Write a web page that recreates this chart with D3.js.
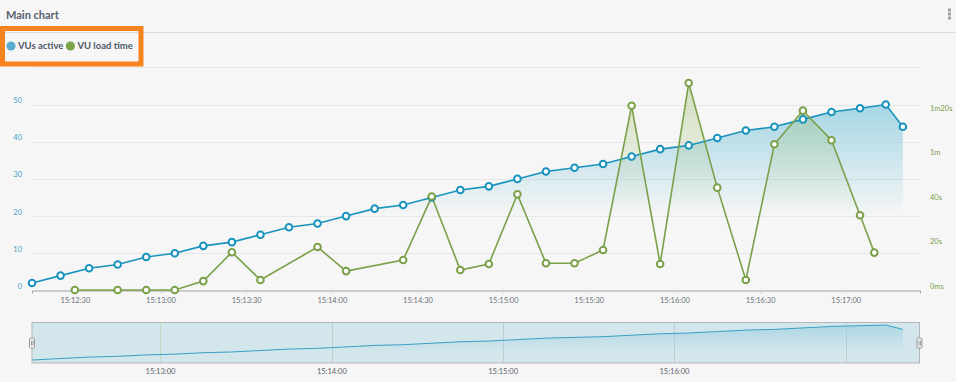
<!DOCTYPE html>
<html>
<head>
<meta charset="utf-8">
<script src="https://cdn.jsdelivr.net/npm/d3@7"></script>
<style>
body { margin: 0; background: #f6f6f6; }
svg { display: block; font-family: Lato, "Open Sans", sans-serif; }
</style>
</head>
<body>
<script>
// VUs active, one point about every 10s
var vuTimes = ["15:12:15","15:12:25","15:12:35","15:12:45","15:12:55","15:13:05","15:13:15","15:13:25",
	"15:13:35","15:13:45","15:13:55","15:14:05","15:14:15","15:14:25","15:14:35","15:14:45",
	"15:14:55","15:15:05","15:15:15","15:15:25","15:15:35","15:15:45","15:15:55","15:16:05",
	"15:16:15","15:16:25","15:16:35","15:16:45","15:16:55","15:17:05","15:17:14","15:17:20"];
var vuValues = [2,4,6,7,9,10,12,13,15,17,18,20,22,23,25,27,28,30,32,33,34,36,38,39,41,43,44,46,48,49,50,44];

// VU load time, seconds
var loadTimes = ["15:12:30","15:12:45","15:12:55","15:13:05","15:13:15","15:13:25","15:13:35","15:13:55",
	"15:14:05","15:14:25","15:14:35","15:14:45","15:14:55","15:15:05","15:15:15","15:15:25",
	"15:15:35","15:15:45","15:15:55","15:16:05","15:16:15","15:16:25","15:16:35","15:16:45",
	"15:16:55","15:17:05","15:17:10"];
var loadValues = [0,0,0,0,4,17,4.5,19.3,8.5,13.5,42,9,11.7,43,12,12,18,82.8,11.7,93,46,4.5,65.5,80.6,67.3,33.6,16.8];

var leftTicks = [0,10,20,30,40,50,60];
var leftLabels = ["0","10","20","30","40","50"];
var rightTicks = [0,20,40,60,80];
var rightLabels = ["0ms","20s","40s","1m","1m20s"];
var seriesNames = ["VUs active","VU load time"];

var parseT = d3.timeParse("%H:%M:%S");
var blue = "#1993bd", green = "#7aa049";

var svg = d3.select("body").append("svg")
	.attr("width", 956)
	.attr("height", 382);

var defs = svg.append("defs");
function grad(id, color, y1, y2, op) {
	var g = defs.append("linearGradient").attr("id", id)
		.attr("gradientUnits", "userSpaceOnUse")
		.attr("x1", 0).attr("x2", 0).attr("y1", y1).attr("y2", y2);
	g.append("stop").attr("offset", 0).attr("stop-color", color).attr("stop-opacity", op);
	g.append("stop").attr("offset", 1).attr("stop-color", color).attr("stop-opacity", 0);
}
grad("gBlue", "#6fc0d8", 104, 216, 0.6);
grad("gGreen", "#98b862", 83, 212, 0.38);
grad("gNav", "#8ccbe0", 324, 352, 0.55);

svg.append("rect").attr("width", 956).attr("height", 382).attr("fill", "#f6f6f6");

// header
svg.append("text").attr("x", 6).attr("y", 19)
	.attr("font-size", 11).attr("font-weight", "bold").attr("fill", "#56606b")
	.text("Main chart");
svg.append("line").attr("x1", 0).attr("x2", 956).attr("y1", 32.5).attr("y2", 32.5)
	.attr("stroke", "#dcdcdc");
[10, 14, 18].forEach(function(y) {
	svg.append("rect").attr("x", 948).attr("y", y - 1.5).attr("width", 3).attr("height", 3).attr("fill", "#a0a0a0");
});

// legend
var leg = svg.append("g");
var lx = 6;
seriesNames.forEach(function(n, i) {
	leg.append("circle").attr("cx", lx + 5).attr("cy", 46).attr("r", 4.6)
		.attr("fill", i == 0 ? "#5badd0" : "#7ba44c");
	var t = leg.append("text").attr("x", lx + 12).attr("y", 49.3)
		.attr("font-size", 9.5).attr("font-weight", "bold").attr("fill", "#4e5966")
		.text(n);
	lx = lx + 12 + t.node().getComputedTextLength() + 2;
});
svg.append("rect").attr("x", 2.5).attr("y", 28.5).attr("width", 138.5).attr("height", 35.5)
	.attr("fill", "none").attr("stroke", "#f7831e").attr("stroke-width", 5);

// scales
var x = d3.scaleTime()
	.domain([parseT("15:12:15"), parseT("15:17:26")])
	.range([32, 920]);
var yL = d3.scaleLinear().domain([0, 50]).range([290.5, 104.5]);
var yR = d3.scaleLinear().domain([0, 80]).range([290, 112]);

var vus = vuTimes.map(function(t, i) { return {t: parseT(t), v: vuValues[i]}; });
var loads = loadTimes.map(function(t, i) { return {t: parseT(t), v: loadValues[i]}; });

// grid
svg.append("g").selectAll("line")
	.data(leftTicks.slice(1))
	.enter().append("line")
	.attr("x1", 32).attr("x2", 920)
	.attr("y1", function(d) { return Math.round(yL(d)) + 0.5; })
	.attr("y2", function(d) { return Math.round(yL(d)) + 0.5; })
	.attr("stroke", "#e6e8e8");

svg.append("g").selectAll("text")
	.data(leftLabels)
	.enter().append("text")
	.attr("x", 22).attr("text-anchor", "end")
	.attr("y", function(d) { return yL(+d) - 1.5; })
	.attr("font-size", 7.5).attr("fill", "#3d9ec4")
	.text(function(d) { return d; });

svg.append("g").selectAll("text")
	.data(rightTicks)
	.enter().append("text")
	.attr("x", 930)
	.attr("y", function(d) { return yR(d) - 1.5; })
	.attr("font-size", 7.5).attr("fill", "#7aa049")
	.text(function(d, i) { return rightLabels[i]; });

// x axis
var xAxis = d3.axisBottom(x)
	.ticks(d3.timeSecond.every(30))
	.tickFormat(d3.timeFormat("%H:%M:%S"))
	.tickSize(3).tickPadding(4);
var ax = svg.append("g").attr("transform", "translate(0,290.5)").call(xAxis);
ax.select(".domain").attr("stroke", "#9ba0a4");
ax.selectAll(".tick line").attr("stroke", "#cfd3d6");
ax.selectAll("text").attr("font-size", 7.5).attr("fill", "#6b7177").attr("font-family", "Lato");

// blue series
svg.append("path").datum(vus)
	.attr("d", d3.area().x(function(d) { return x(d.t); }).y0(290).y1(function(d) { return yL(d.v); }))
	.attr("fill", "url(#gBlue)");
// green series
svg.append("path").datum(loads)
	.attr("d", d3.area().x(function(d) { return x(d.t); }).y0(290).y1(function(d) { return yR(d.v); }))
	.attr("fill", "url(#gGreen)");

svg.append("path").datum(vus)
	.attr("d", d3.line().x(function(d) { return x(d.t); }).y(function(d) { return yL(d.v); }))
	.attr("fill", "none").attr("stroke", blue).attr("stroke-width", 1.6);
svg.append("path").datum(loads)
	.attr("d", d3.line().x(function(d) { return x(d.t); }).y(function(d) { return yR(d.v); }))
	.attr("fill", "none").attr("stroke", green).attr("stroke-width", 1.6);

svg.append("g").selectAll("circle")
	.data(vus).enter().append("circle")
	.attr("cx", function(d) { return x(d.t); })
	.attr("cy", function(d) { return yL(d.v); })
	.attr("r", 3.3).attr("fill", "#fff").attr("stroke", blue).attr("stroke-width", 2);
svg.append("g").selectAll("circle")
	.data(loads).enter().append("circle")
	.attr("cx", function(d) { return x(d.t); })
	.attr("cy", function(d) { return yR(d.v); })
	.attr("r", 3.3).attr("fill", "#fff").attr("stroke", green).attr("stroke-width", 2);

// navigator
var yN = d3.scaleLinear().domain(d3.extent(vuValues)).range([360, 325]);
svg.append("rect").attr("x", 32).attr("y", 322.5).attr("width", 887.5).attr("height", 40.5)
	.attr("fill", "#d3e6ec");
svg.append("g").selectAll("line")
	.data(x.ticks(d3.timeMinute.every(1)))
	.enter().append("line")
	.attr("x1", function(d) { return Math.round(x(d)) + 0.5; })
	.attr("x2", function(d) { return Math.round(x(d)) + 0.5; })
	.attr("y1", 322.5).attr("y2", 363)
	.attr("stroke", function(d, i) { return i == 0 ? "#c2dcc8" : "#bfcdd2"; });
svg.append("path").datum(vus)
	.attr("d", d3.area().x(function(d) { return x(d.t); }).y0(363).y1(function(d) { return yN(d.v); }))
	.attr("fill", "url(#gNav)");
svg.append("path").datum(vus)
	.attr("d", d3.line().x(function(d) { return x(d.t); }).y(function(d) { return yN(d.v); }))
	.attr("fill", "none").attr("stroke", "#3a9fc4").attr("stroke-width", 1);
svg.append("rect").attr("x", 32).attr("y", 322.5).attr("width", 887.5).attr("height", 40.5)
	.attr("fill", "none").attr("stroke", "#b4b8ba");
svg.append("g").selectAll("text")
	.data(x.ticks(d3.timeMinute.every(1)).slice(0, 4))
	.enter().append("text")
	.attr("x", function(d) { return x(d); })
	.attr("y", 374).attr("text-anchor", "middle")
	.attr("font-size", 7.5).attr("fill", "#5a6066")
	.text(d3.timeFormat("%H:%M:%S"));
[32, 919.5].forEach(function(hx) {
	var h = svg.append("g").attr("transform", "translate(" + hx + ",343)");
	h.append("rect").attr("x", -2.5).attr("y", -5).attr("width", 5).attr("height", 10).attr("rx", 1)
		.attr("fill", "#f4f4f4").attr("stroke", "#9a9a9a");
	h.append("line").attr("x1", -0.5).attr("x2", -0.5).attr("y1", -2.5).attr("y2", 2.5).attr("stroke", "#9a9a9a");
	h.append("line").attr("x1", 1).attr("x2", 1).attr("y1", -2.5).attr("y2", 2.5).attr("stroke", "#9a9a9a");
});
</script>
</body>
</html>
